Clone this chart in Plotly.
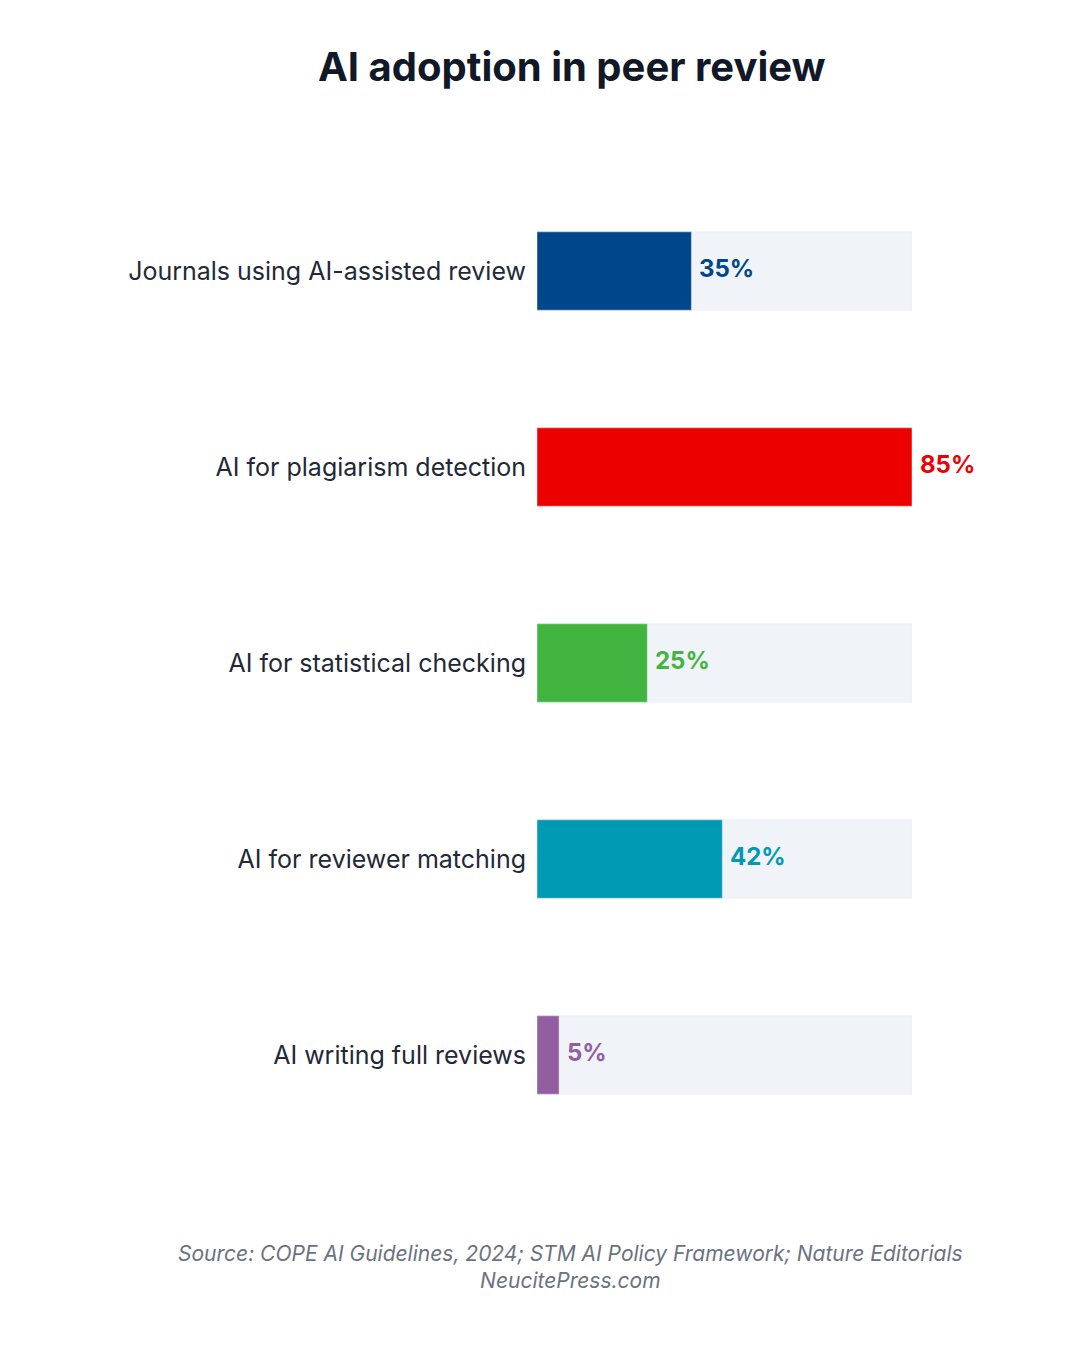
import plotly.graph_objects as go

categories = ["Journals using AI-assisted review", "AI for plagiarism detection",
              "AI for statistical checking", "AI for reviewer matching", "AI writing full reviews"]
values = [35, 85, 25, 42, 5]
colors = ["#00468b", "#ed0000", "#42b540", "#0099b4", "#925e9f"]
max_val = max(values)

fig = go.Figure()
# background track
fig.add_trace(go.Bar(y=categories, x=[max_val] * len(values), orientation="h",
                     marker=dict(color="#f0f3f8"), hoverinfo="skip", showlegend=False))
fig.add_trace(go.Bar(y=categories, x=values, orientation="h",
                     marker=dict(color=colors), showlegend=False))

for cat, v, c in zip(categories, values, colors):
    fig.add_annotation(x=v, y=cat, text=f"<b>{v}%</b>", showarrow=False,
                       xanchor="left", xshift=6, yshift=3,
                       font=dict(family="Inter", size=24, color=c))

fig.add_annotation(xref="paper", yref="paper", x=0.09, y=-0.145, xanchor="center",
                   text="<i>Source: COPE AI Guidelines, 2024; STM AI Policy Framework; Nature Editorials</i>"
                        "<br><i>NeucitePress.com</i>",
                   showarrow=False, font=dict(family="Inter", size=21, color="#6b7280"))

fig.update_layout(
    width=1080, height=1350,
    paper_bgcolor="white", plot_bgcolor="white",
    barmode="overlay", bargap=0.6,
    margin=dict(l=529, r=176, t=165, b=205),
    title=dict(text="<b>AI adoption in peer review</b>", x=0.522, xanchor="center", y=0.967,
               font=dict(family="Inter", size=40, color="#111827")),
    xaxis=dict(range=[0, max_val], visible=False),
    yaxis=dict(autorange="reversed", showgrid=False, ticks="", ticklabelstandoff=10,
               tickfont=dict(family="Inter", size=25, color="#1f2937")),
)

fig.write_html("out.html")
